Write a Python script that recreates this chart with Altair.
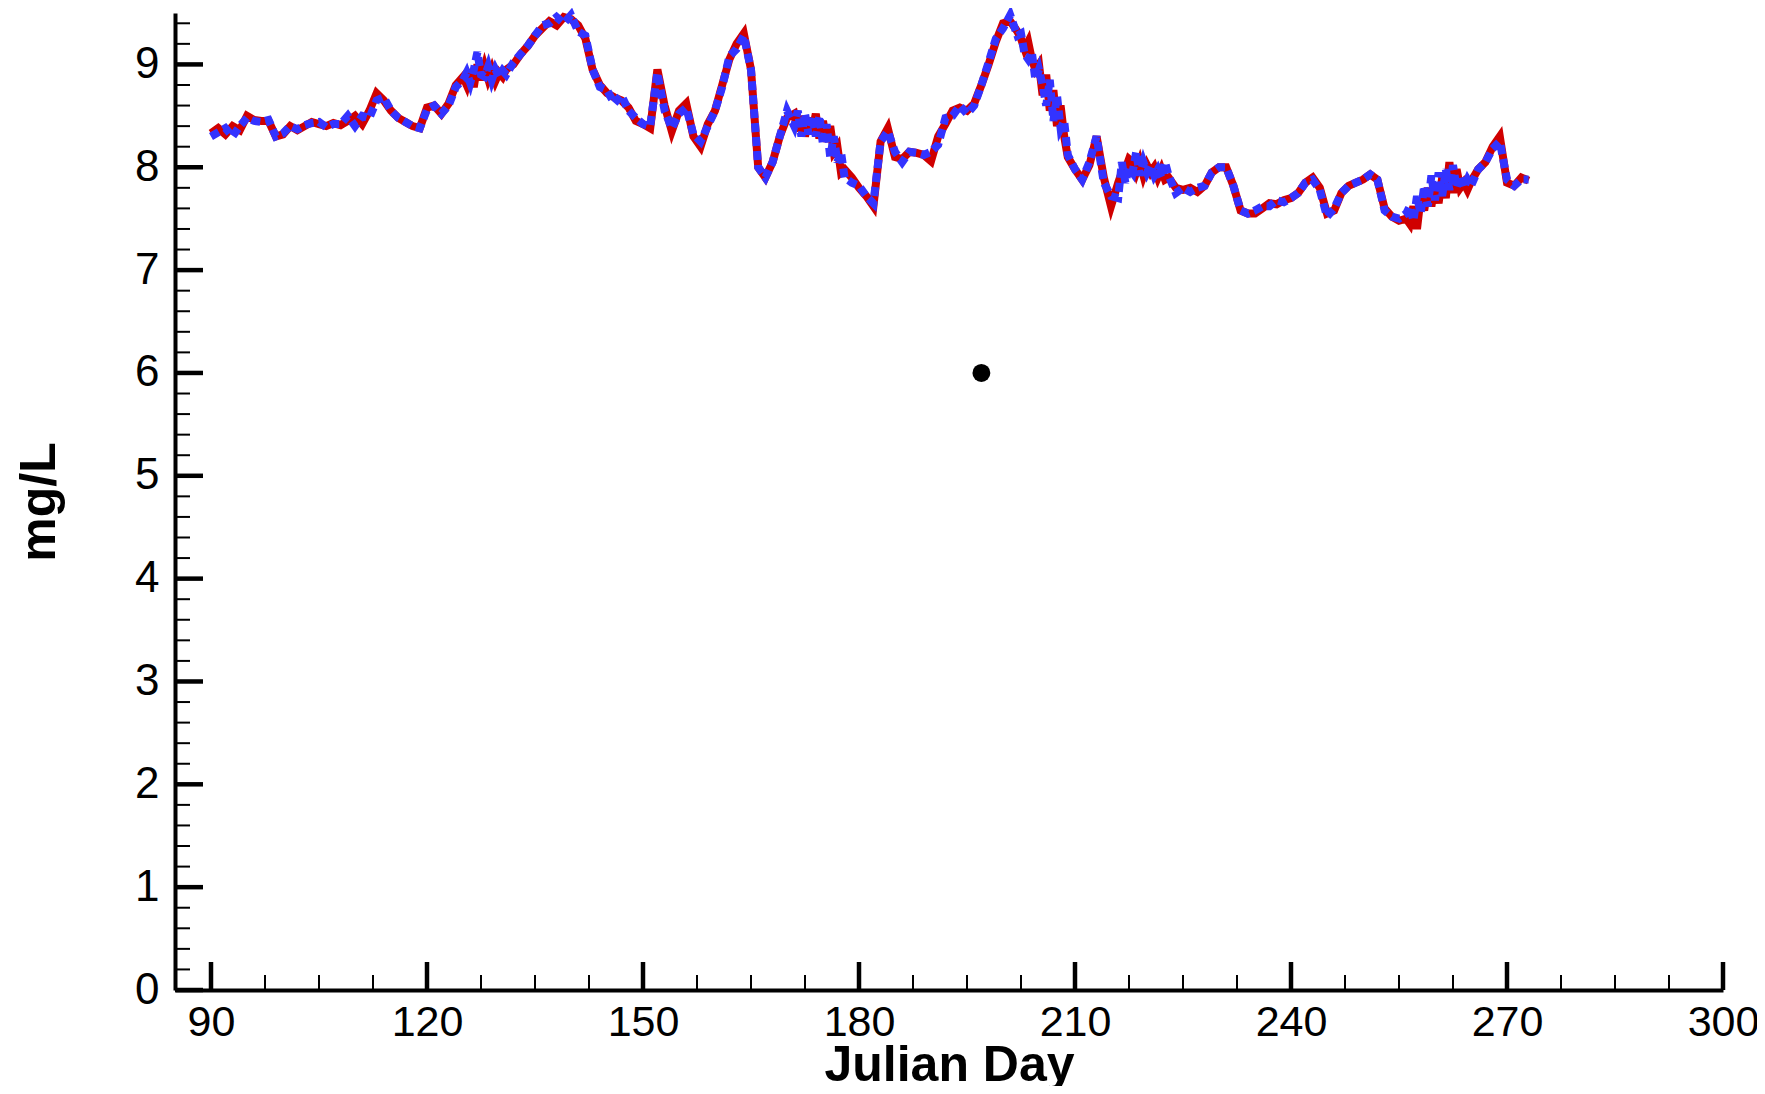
import altair as alt
import pandas as pd

# ---------------- data ----------------
# sampling days (daily, half-daily in the noisy stretches)
days = (
    list(range(90, 125))
    + [125, 125.5, 126, 126.5, 127, 127.5, 128, 128.5, 129, 129.5, 130, 130.5, 131]
    + list(range(132, 171))
    + [171, 171.5, 172, 172.5, 173, 173.5, 174, 174.5, 175, 175.5, 176, 176.5, 177, 177.5, 178]
    + list(range(179, 202))
    + [202, 202.5, 203, 203.5, 204, 204.5, 205, 205.5, 206, 206.5, 207, 207.5, 208, 208.5, 209]
    + list(range(210, 216))
    + [216, 216.5, 217, 217.5, 218, 218.5, 219, 219.5, 220, 220.5, 221, 221.5, 222, 222.5, 223]
    + list(range(224, 256))
    + [256, 256.5, 257, 257.5, 258, 258.5, 259, 259.5, 260, 260.5, 261, 261.5, 262, 262.5,
       263, 263.5, 264, 264.5, 265]
    + list(range(266, 274))
)

red_mg = (
    [8.33, 8.38, 8.32, 8.40, 8.36, 8.50, 8.46, 8.45, 8.45, 8.30,
     8.32, 8.40, 8.36, 8.40, 8.44, 8.42, 8.40, 8.43, 8.41, 8.45,
     8.50, 8.42, 8.55, 8.72, 8.65, 8.55, 8.48, 8.44, 8.40, 8.38,
     8.58, 8.60, 8.52, 8.62, 8.80]
    + [8.88, 8.80, 8.95, 8.78, 9.00, 8.85, 8.98, 8.86, 8.95, 8.84, 8.92, 8.88, 8.95]
    + [9.00, 9.10, 9.18, 9.28, 9.35, 9.42, 9.38, 9.46, 9.44, 9.38,
       9.25, 8.95, 8.80, 8.72, 8.68, 8.65, 8.58, 8.45, 8.42, 8.38,
       8.95, 8.60, 8.35, 8.55, 8.62, 8.30, 8.20, 8.42, 8.55, 8.80,
       9.05, 9.20, 9.30, 8.95, 8.00, 7.90, 8.05, 8.30, 8.48]
    + [8.52, 8.35, 8.50, 8.30, 8.48, 8.35, 8.52, 8.28, 8.45, 8.25, 8.40, 8.15, 8.20, 7.95, 7.98]
    + [7.90, 7.80, 7.72, 7.62, 8.25, 8.38, 8.10, 8.08, 8.15, 8.14,
       8.12, 8.06, 8.30, 8.42, 8.55, 8.58, 8.55, 8.62, 8.80, 9.00,
       9.22, 9.40, 9.42]
    + [9.32, 9.25, 9.15, 9.22, 9.05, 8.95, 9.00, 8.70, 8.90, 8.55, 8.75, 8.40, 8.60, 8.30, 8.10]
    + [7.98, 7.88, 8.02, 8.30, 7.90, 7.62]
    + [7.85, 7.95, 7.98, 8.08, 8.05, 7.95, 8.05, 7.92, 8.02, 7.95, 8.00, 7.90, 7.98, 7.88, 7.90]
    + [7.80, 7.78, 7.80, 7.76, 7.82, 7.95, 8.00, 8.00, 7.82, 7.58,
       7.55, 7.55, 7.60, 7.65, 7.64, 7.68, 7.70, 7.75, 7.85, 7.90,
       7.80, 7.55, 7.58, 7.75, 7.82, 7.85, 7.88, 7.93, 7.88, 7.60,
       7.52, 7.48]
    + [7.50, 7.45, 7.62, 7.40, 7.70, 7.58, 7.80, 7.62, 7.85, 7.65,
       7.90, 7.70, 8.05, 7.75, 7.98, 7.80, 7.85, 7.78, 7.86]
    + [7.98, 8.05, 8.20, 8.30, 7.85, 7.82, 7.90, 7.87]
)

blue_mg = (
    [8.30, 8.34, 8.38, 8.30, 8.40, 8.48, 8.45, 8.44, 8.46, 8.30,
     8.33, 8.40, 8.37, 8.41, 8.43, 8.44, 8.39, 8.42, 8.42, 8.50,
     8.40, 8.50, 8.48, 8.65, 8.68, 8.55, 8.48, 8.44, 8.40, 8.38,
     8.56, 8.60, 8.52, 8.60, 8.78]
    + [8.85, 8.92, 8.82, 8.95, 9.12, 8.90, 8.88, 8.98, 8.85, 8.95, 8.88, 8.94, 8.90]
    + [9.02, 9.10, 9.18, 9.28, 9.38, 9.40, 9.46, 9.40, 9.48, 9.32,
       9.28, 8.95, 8.78, 8.75, 8.62, 8.70, 8.55, 8.48, 8.42, 8.40,
       8.92, 8.55, 8.38, 8.52, 8.58, 8.32, 8.25, 8.40, 8.55, 8.78,
       9.08, 9.15, 9.28, 8.95, 8.00, 7.90, 8.05, 8.30, 8.55]
    + [8.40, 8.55, 8.30, 8.52, 8.32, 8.50, 8.30, 8.50, 8.22, 8.42, 8.10, 8.30, 8.05, 8.15, 7.90]
    + [7.85, 7.82, 7.72, 7.65, 8.25, 8.35, 8.15, 8.05, 8.15, 8.14,
       8.12, 8.15, 8.22, 8.48, 8.50, 8.60, 8.52, 8.60, 8.80, 9.02,
       9.25, 9.35, 9.48]
    + [9.28, 9.30, 9.10, 9.05, 9.12, 8.85, 8.95, 8.80, 8.60, 8.85, 8.45, 8.70, 8.38, 8.45, 8.12]
    + [7.98, 7.88, 8.05, 8.30, 7.85, 7.72]
    + [7.70, 8.05, 7.85, 8.00, 7.95, 8.15, 7.92, 8.05, 7.95, 8.02, 7.92, 7.98, 7.90, 8.05, 7.92]
    + [7.75, 7.80, 7.76, 7.80, 7.82, 7.95, 8.00, 8.00, 7.82, 7.58,
       7.55, 7.58, 7.62, 7.62, 7.68, 7.66, 7.70, 7.75, 7.85, 7.88,
       7.78, 7.52, 7.60, 7.75, 7.82, 7.85, 7.88, 7.93, 7.88, 7.58,
       7.52, 7.50]
    + [7.55, 7.62, 7.48, 7.72, 7.55, 7.82, 7.62, 7.92, 7.68, 7.95,
       7.72, 7.98, 7.78, 8.02, 7.80, 7.92, 7.80, 7.88, 7.82]
    + [7.98, 8.05, 8.18, 8.25, 7.88, 7.82, 7.88, 7.88]
)

assert len(days) == len(red_mg) == len(blue_mg)

obs_day = [197]
obs_mg = [6.0]

x_major = [90, 120, 150, 180, 210, 240, 270, 300]
x_minor = [97.5, 105, 112.5, 127.5, 135, 142.5, 157.5, 165, 172.5,
           187.5, 195, 202.5, 217.5, 225, 232.5, 247.5, 255, 262.5,
           277.5, 285, 292.5]
y_major = [0, 1, 2, 3, 4, 5, 6, 7, 8, 9]
y_minor = [0.2, 0.4, 0.6, 0.8, 1.2, 1.4, 1.6, 1.8, 2.2, 2.4, 2.6, 2.8,
           3.2, 3.4, 3.6, 3.8, 4.2, 4.4, 4.6, 4.8, 5.2, 5.4, 5.6, 5.8,
           6.2, 6.4, 6.6, 6.8, 7.2, 7.4, 7.6, 7.8, 8.2, 8.4, 8.6, 8.8,
           9.2, 9.4]

# ---------------- chart ----------------
W = 1548
H = 977
FONT = "Liberation Sans"

line_df = pd.DataFrame({"day": days, "red": red_mg, "blue": blue_mg})
obs_df = pd.DataFrame({"day": obs_day, "mg": obs_mg})

xs = alt.Scale(domain=[85, 300], nice=False, zero=False)
ys = alt.Scale(domain=[0, 9.5], nice=False, zero=True)

x_axis = alt.Axis(
    values=x_major, ticks=False, tickSize=0, grid=False,
    domainColor="black", domainWidth=4,
    labelFont=FONT, labelFontSize=43, labelColor="black", labelPadding=11,
    labelFlush=False, labelOverlap=False,
    title="Julian Day", titleFont=FONT, titleFontSize=50, titleFontWeight="bold",
    titleColor="black", titleBaseline="alphabetic", titleX=W / 2, titleY=90,
)
y_axis = alt.Axis(
    values=y_major, format="d", ticks=False, tickSize=0, grid=False,
    domainColor="black", domainWidth=4,
    labelFont=FONT, labelFontSize=44, labelColor="black", labelPadding=16,
    labelFlush=False, labelOverlap=False,
    title="mg/L", titleFont=FONT, titleFontSize=50, titleFontWeight="bold",
    titleColor="black", titleBaseline="alphabetic", titleX=-121, titleY=H / 2,
)


def X(field):
    return alt.X(field, scale=xs, axis=x_axis)


def Y(field):
    return alt.Y(field, scale=ys, axis=y_axis)


red_line = alt.Chart(line_df).mark_line(
    color="#d00000", strokeWidth=8, strokeJoin="miter"
).encode(x=X("day:Q"), y=Y("red:Q"))

blue_line = alt.Chart(line_df).mark_line(
    color="#3333ff", strokeWidth=8, strokeDash=[9, 5], strokeJoin="miter"
).encode(x=X("day:Q"), y=Y("blue:Q"))

obs = alt.Chart(obs_df).mark_circle(size=320, color="black", opacity=1).encode(
    x=X("day:Q"), y=Y("mg:Q")
)

xmaj = alt.Chart(pd.DataFrame({"v": x_major})).mark_rule(color="black", strokeWidth=4.5).encode(
    x=X("v:Q"), y=alt.value(H), y2=alt.value(H - 28)
)
xmin = alt.Chart(pd.DataFrame({"v": x_minor})).mark_rule(color="black", strokeWidth=2).encode(
    x=X("v:Q"), y=alt.value(H), y2=alt.value(H - 15)
)
ymaj = alt.Chart(pd.DataFrame({"v": y_major})).mark_rule(color="black", strokeWidth=4.5).encode(
    y=Y("v:Q"), x=alt.value(0), x2=alt.value(28)
)
ymin = alt.Chart(pd.DataFrame({"v": y_minor})).mark_rule(color="black", strokeWidth=2).encode(
    y=Y("v:Q"), x=alt.value(0), x2=alt.value(15)
)

chart = alt.layer(red_line, blue_line, obs, xmaj, xmin, ymaj, ymin).properties(
    width=W, height=H,
    autosize=alt.AutoSizeParams(type="none"),
    padding={"left": 167, "top": 5, "right": 34, "bottom": 96},
    background="white",
).configure_view(strokeWidth=0)

chart.save("out.html", embed_options={"renderer": "svg", "actions": False})
